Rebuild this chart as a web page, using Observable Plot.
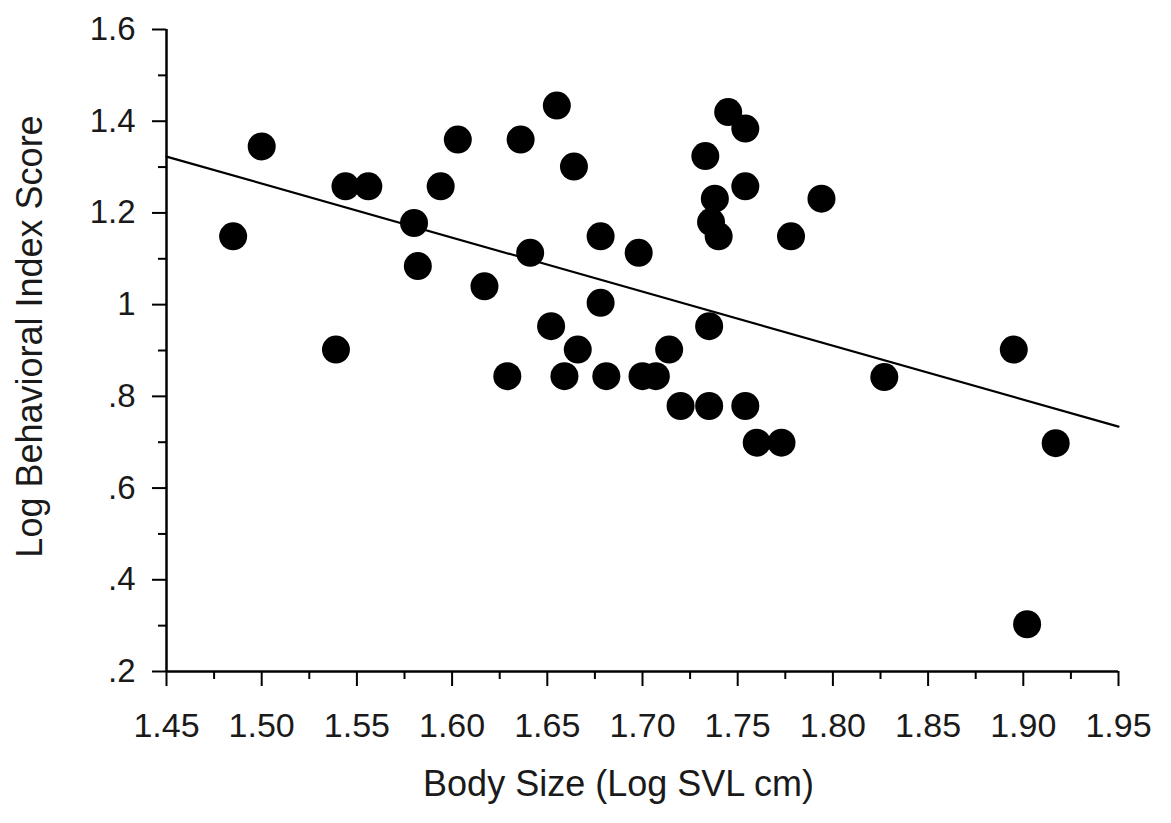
<!DOCTYPE html>
<html>
<head>
<meta charset="utf-8">
<script src="https://cdn.jsdelivr.net/npm/d3@7"></script>
<script src="https://cdn.jsdelivr.net/npm/@observablehq/plot@0.6"></script>
<style>
  html, body { margin: 0; padding: 0; background: #fff; }
  #chart svg { display: block; }
</style>
</head>
<body>
<div id="chart"></div>
<script>
// Body size (log SVL cm)
const bodySize = [
  1.500, 1.485, 1.544, 1.556, 1.539,
  1.655, 1.603, 1.636, 1.664, 1.594, 1.580, 1.582, 1.617, 1.641, 1.678,
  1.698, 1.678, 1.652, 1.666, 1.714, 1.735, 1.629, 1.659, 1.681, 1.700,
  1.707, 1.720, 1.735, 1.754, 1.760, 1.773, 1.745, 1.754, 1.733, 1.754,
  1.738, 1.736, 1.740, 1.794, 1.778,
  1.827, 1.895, 1.917, 1.902
];
// Log behavioral index score
const behaviorScore = [
  1.345, 1.149, 1.258, 1.258, 0.902,
  1.434, 1.360, 1.360, 1.301, 1.258, 1.178, 1.084, 1.040, 1.113, 1.149,
  1.113, 1.004, 0.953, 0.902, 0.902, 0.953, 0.844, 0.844, 0.844, 0.844,
  0.844, 0.779, 0.779, 0.779, 0.699, 0.699, 1.420, 1.384, 1.324, 1.258,
  1.231, 1.180, 1.149, 1.231, 1.149,
  0.842, 0.902, 0.698, 0.303
];
// Fitted regression line: y = intercept + slope * x
const fitIntercept = 3.031;
const fitSlope = -1.178;
const fitRange = [1.45, 1.95];

const xMajorTicks = [1.45, 1.50, 1.55, 1.60, 1.65, 1.70, 1.75, 1.80, 1.85, 1.90, 1.95];
const xMinorTicks = [1.475, 1.525, 1.575, 1.625, 1.675, 1.725, 1.775, 1.825, 1.875, 1.925];
const yMajorTicks = [0.2, 0.4, 0.6, 0.8, 1.0, 1.2, 1.4, 1.6];
const yTickLabels = [".2", ".4", ".6", ".8", "1", "1.2", "1.4", "1.6"];
const yMinorTicks = [0.3, 0.5, 0.7, 0.9, 1.1, 1.3, 1.5];

const xTitle = "Body Size (Log SVL cm)";
const yTitle = "Log Behavioral Index Score";

const points = bodySize.map((x, i) => ({x, y: behaviorScore[i]}));
const fitLine = fitRange.map(x => ({x, y: fitIntercept + fitSlope * x}));
const yLabelMap = new Map(yMajorTicks.map((t, i) => [t, yTickLabels[i]]));

const font = "'Liberation Sans', Arial, Helvetica, sans-serif";
const noLabel = () => "";

const chart = Plot.plot({
  width: 1171,
  height: 823,
  marginLeft: 166,
  marginRight: 53,
  marginTop: 29,
  marginBottom: 152,
  style: {fontFamily: font, background: "#fff", color: "#000"},
  x: {domain: [1.45, 1.95]},
  y: {domain: [0.2, 1.6]},
  marks: [
    Plot.axisX({ticks: xMinorTicks, tickSize: 8, tickFormat: noLabel, stroke: "#000", strokeWidth: 2, label: null}),
    Plot.axisX({ticks: xMajorTicks, tickSize: 15, tickPadding: 26, tickFormat: d3.format(".2f"),
      stroke: "#000", strokeWidth: 2, fontSize: 34, fill: "#1a1a1a", label: null}),
    Plot.axisY({ticks: yMinorTicks, tickSize: 8, tickFormat: noLabel, stroke: "#000", strokeWidth: 2, label: null}),
    Plot.axisY({ticks: yMajorTicks, tickSize: 14, tickPadding: 17, tickFormat: d => yLabelMap.get(+d.toFixed(1)),
      stroke: "#000", strokeWidth: 2, fontSize: 33, fill: "#1a1a1a", label: null}),
    Plot.ruleX([1.45], {stroke: "#000", strokeWidth: 2.5}),
    Plot.ruleY([0.2], {stroke: "#000", strokeWidth: 2.5}),
    Plot.line(fitLine, {x: "x", y: "y", stroke: "#000", strokeWidth: 2.2}),
    Plot.dot(points, {x: "x", y: "y", r: 14, fill: "#000", stroke: "none"}),
    Plot.text([yTitle], {frameAnchor: "left", textAnchor: "middle", dx: -136, dy: -14, rotate: -90,
      fontSize: 36, fill: "#1a1a1a", text: d => d}),
    Plot.text([xTitle], {frameAnchor: "bottom", textAnchor: "middle", dy: 124, dx: -24,
      fontSize: 36, fill: "#1a1a1a", text: d => d})
  ]
});
document.getElementById("chart").appendChild(chart);
</script>
</body>
</html>
